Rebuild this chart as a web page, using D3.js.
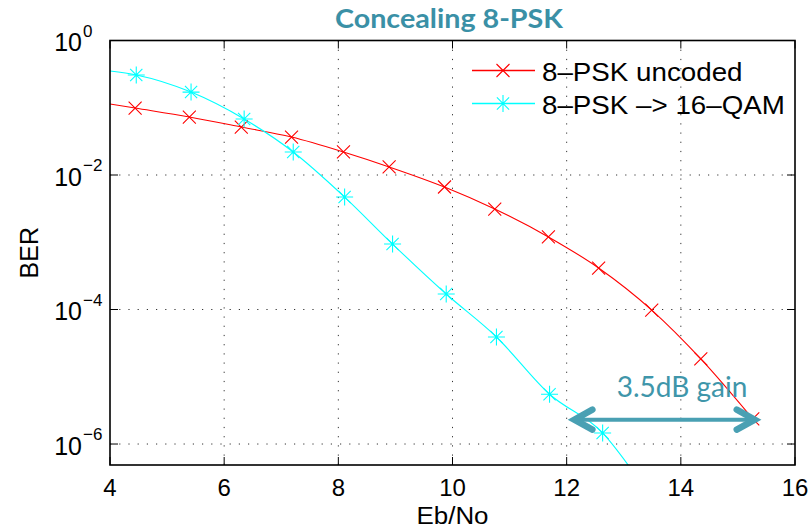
<!DOCTYPE html>
<html>
<head>
<meta charset="utf-8">
<script src="https://cdn.jsdelivr.net/npm/d3@7"></script>
<style>
  body { margin: 0; background: #fff; }
  svg { display: block; font-family: "Liberation Sans", Arial, sans-serif; }
</style>
</head>
<body>
<svg id="chart" width="810" height="532"></svg>
<script>
// Eb/No (dB) and BER
const pskEbNo = [4.44, 5.39, 6.30, 7.18, 8.09, 8.89, 9.86, 10.74, 11.68, 12.56, 13.49, 14.35, 15.26];
const pskBer = [0.099, 0.0728, 0.0517, 0.0367, 0.022, 0.0132, 0.00663, 0.00312, 0.0012, 0.000414, 9.8e-5, 1.84e-5, 2.36e-6];
const qamEbNo = [4.46, 5.42, 6.35, 7.21, 8.11, 8.95, 9.89, 10.77, 11.70, 12.63];
const qamBer = [0.307, 0.171, 0.068, 0.022, 0.0047, 9.4e-4, 1.7e-4, 3.9e-5, 5.5e-6, 1.46e-6];
// where the curves run past the first / last marker
const pskLineStart = [4, 0.114];
const qamLineStart = [4, 0.352];
const qamLineEnd = [13.2, 3.5e-7];

const xTicks = [4, 6, 8, 10, 12, 14, 16];
const yExps = [0, -2, -4, -6];
const seriesNames = ['8\u2013PSK uncoded', '8\u2013PSK \u2013> 16\u2013QAM'];
const gainLabel = '3.5dB gain';
const gainFrom = 12.1, gainTo = 15.33, gainBer = 2.3e-6;

const margin = { top: 40.5, right: 15, bottom: 67, left: 110 };
const width = 810 - margin.left - margin.right;
const height = 532 - margin.top - margin.bottom;

const svg = d3.select('#chart');
const g = svg.append('g').attr('transform', `translate(${margin.left},${margin.top})`);

const x = d3.scaleLinear().domain([4, 16]).range([0, width]);
const y = d3.scaleLog().domain([Math.pow(10, -6.312), 1]).range([height, 0]);

// grid
const grid = g.append('g').attr('stroke', '#333').attr('stroke-width', 1).attr('stroke-dasharray', '1.2,8');
grid.selectAll('.gx').data(xTicks.slice(1, -1)).enter().append('line')
  .attr('x1', d => x(d)).attr('x2', d => x(d)).attr('y1', 0).attr('y2', height);
grid.selectAll('.gy').data(yExps.slice(1)).enter().append('line')
  .attr('y1', d => y(Math.pow(10, d))).attr('y2', d => y(Math.pow(10, d))).attr('x1', 0).attr('x2', width);

// ticks (inward, both sides)
const ticks = g.append('g').attr('stroke', '#000').attr('stroke-width', 1);
xTicks.forEach(t => {
  ticks.append('line').attr('x1', x(t)).attr('x2', x(t)).attr('y1', height).attr('y2', height - 8);
  ticks.append('line').attr('x1', x(t)).attr('x2', x(t)).attr('y1', 0).attr('y2', 8);
});
yExps.forEach(e => {
  const yy = y(Math.pow(10, e));
  ticks.append('line').attr('x1', 0).attr('x2', 8).attr('y1', yy).attr('y2', yy);
  ticks.append('line').attr('x1', width).attr('x2', width - 8).attr('y1', yy).attr('y2', yy);
});

// tick labels
g.selectAll('.xl').data(xTicks).enter().append('text')
  .attr('x', d => x(d)).attr('y', height + 31)
  .attr('text-anchor', 'middle').attr('font-size', 24).text(d => d);

yExps.forEach(e => {
  const yy = y(Math.pow(10, e));
  g.append('text').attr('x', -28).attr('y', yy + 10.5)
    .attr('text-anchor', 'end').attr('font-size', 25).text('10');
  g.append('text').attr('x', -27).attr('y', yy - 4)
    .attr('text-anchor', 'start').attr('font-size', 17)
    .text(e < 0 ? '\u2212' + Math.abs(e) : String(e));
});

// axis titles
g.append('text').attr('transform', `translate(${width / 2},${height + 59}) scale(1.08,1)`)
  .attr('text-anchor', 'middle').attr('font-size', 24).text('Eb/No');
g.append('text').attr('transform', `translate(${38 - margin.left},${height / 2}) rotate(-90)`)
  .attr('text-anchor', 'middle').attr('font-size', 25).text('BER');

// curves
const clip = svg.append('clipPath').attr('id', 'plot-clip');
clip.append('rect').attr('width', width).attr('height', height);
const plot = g.append('g').attr('clip-path', 'url(#plot-clip)');

const line = d3.line().x(d => x(d[0])).y(d => y(d[1])).curve(d3.curveMonotoneX);
const pskPts = pskEbNo.map((v, i) => [v, pskBer[i]]);
const qamPts = qamEbNo.map((v, i) => [v, qamBer[i]]);

const red = '#ff0000', cyan = '#00ffff';

plot.append('path').datum([pskLineStart].concat(pskPts))
  .attr('d', line).attr('fill', 'none').attr('stroke', red).attr('stroke-width', 1.1);
plot.append('path').datum([qamLineStart].concat(qamPts, [qamLineEnd]))
  .attr('d', line).attr('fill', 'none').attr('stroke', cyan).attr('stroke-width', 1.1);

function crossMarker(sel, s) {
  sel.append('path').attr('d', `M${-s},${-s}L${s},${s}M${-s},${s}L${s},${-s}`);
}
function starMarker(sel, s) {
  const d = s * 0.72;
  sel.append('path').attr('d', `M${-s},0L${s},0M0,${-s}L0,${s}M${-d},${-d}L${d},${d}M${-d},${d}L${d},${-d}`);
}

plot.selectAll('.mk-psk').data(pskPts).enter().append('g')
  .attr('transform', d => `translate(${x(d[0])},${y(d[1])})`)
  .attr('stroke', red).attr('stroke-width', 1.1).attr('fill', 'none')
  .each(function () { crossMarker(d3.select(this), 6.5); });
plot.selectAll('.mk-qam').data(qamPts).enter().append('g')
  .attr('transform', d => `translate(${x(d[0])},${y(d[1])})`)
  .attr('stroke', cyan).attr('stroke-width', 1.1).attr('fill', 'none')
  .each(function () { starMarker(d3.select(this), 8.5); });

// axes box
g.append('rect').attr('width', width).attr('height', height)
  .attr('fill', 'none').attr('stroke', '#000').attr('stroke-width', 1.6);

// legend
const legend = g.append('g').attr('transform', `translate(${472 - margin.left},${70.5 - margin.top})`);
const legendRows = [
  { name: seriesNames[0], color: red, marker: crossMarker, size: 6.5 },
  { name: seriesNames[1], color: cyan, marker: starMarker, size: 8.5 }
];
legendRows.forEach((r, i) => {
  const row = legend.append('g').attr('transform', `translate(0,${i * 33})`);
  row.append('line').attr('x1', 0).attr('x2', 63).attr('stroke', r.color).attr('stroke-width', 1.3);
  const m = row.append('g').attr('transform', 'translate(31,0)')
    .attr('stroke', r.color).attr('stroke-width', 1.1).attr('fill', 'none');
  r.marker(m, r.size);
  row.append('text').attr('transform', 'translate(70,10.5) scale(1.11,1)')
    .attr('font-size', 25).text(r.name);
});

// title
svg.append('text').attr('x', 449).attr('y', 28).attr('text-anchor', 'middle')
  .attr('font-family', 'Lato, "Open Sans", sans-serif').attr('font-weight', 700)
  .attr('font-size', 27).attr('textLength', 228).attr('lengthAdjust', 'spacingAndGlyphs')
  .attr('fill', '#3a90a6').text('Concealing 8-PSK');

// gain annotation
const teal = '#49a0b3';
const ay = y(gainBer), ax1 = x(gainFrom), ax2 = x(gainTo);
const ann = g.append('g').attr('stroke', teal).attr('fill', 'none').attr('stroke-linecap', 'round');
ann.append('line').attr('x1', ax1 + 3).attr('x2', ax2 - 3).attr('y1', ay).attr('y2', ay).attr('stroke-width', 4);
ann.append('path').attr('d', `M${ax1 + 20},${ay - 10}L${ax1 + 2},${ay}L${ax1 + 20},${ay + 10}`)
  .attr('stroke-width', 6.5).attr('stroke-linejoin', 'miter');
ann.append('path').attr('d', `M${ax2 - 20},${ay - 10}L${ax2 - 2},${ay}L${ax2 - 20},${ay + 10}`)
  .attr('stroke-width', 6.5).attr('stroke-linejoin', 'miter');
g.append('text').attr('x', (615 + 749) / 2 - margin.left).attr('y', 397 - margin.top)
  .attr('text-anchor', 'middle').attr('font-family', 'Lato, "Open Sans", sans-serif')
  .attr('font-size', 28).attr('fill', '#3f96aa').text(gainLabel);
</script>
</body>
</html>
